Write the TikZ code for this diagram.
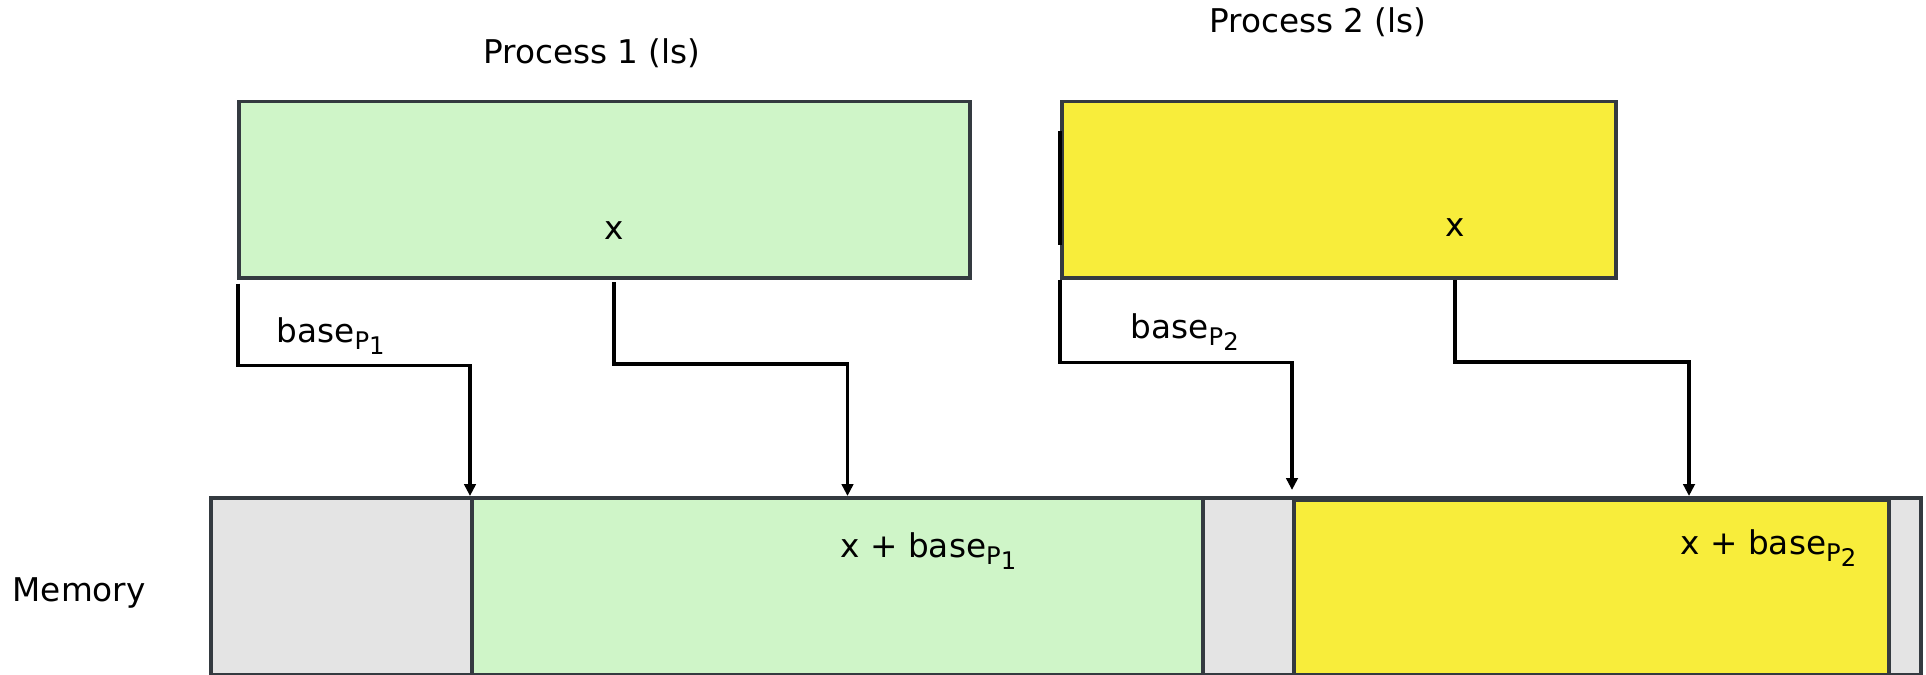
\documentclass[tikz,border=0pt]{standalone}
\usepackage{fontspec}
\setmainfont{DejaVu Sans}
\usetikzlibrary{positioning,arrows.meta,calc}
\definecolor{boxline}{HTML}{343A40}
\definecolor{pgreen}{HTML}{CFF5C8}
\definecolor{pyellow}{HTML}{F8ED3B}
\definecolor{memgray}{HTML}{E4E4E4}
\newcommand{\baseP}[1]{base\raisebox{-0.4ex}{\fontsize{6.9}{8}\selectfont P\raisebox{-0.4ex}{#1}}}

\begin{document}
\begin{tikzpicture}[font=\fontsize{9.3}{11}\selectfont, >={Triangle[length=1.2mm,width=1.15mm]},
  blk/.style={draw=boxline, line width=1.05pt, inner sep=0pt, anchor=north west,
              minimum height=17.65mm},
  seg/.style={blk, minimum height=17.7mm},
  lbl/.style={inner sep=0pt, anchor=base west},
  map/.style={->, line width=0.9pt}]
\useasboundingbox (0,0) rectangle (19.26,6.74);
% address spaces of the two processes
\node[inner sep=0pt] (t1) at (5.92,6.21) {Process 1 (ls)};
\node[inner sep=0pt] (t2) at (13.18,6.52) {Process 2 (ls)};
\node[blk, fill=pgreen, minimum width=73.1mm] (p1) at (2.37,5.745) {};
\node[blk, fill=pyellow, minimum width=55.4mm] (p2) at (10.60,5.745) {};
\draw[line width=1.3pt] (10.60,5.43) -- (10.60,4.29);
\node[inner sep=0pt] (x1) at (6.14,4.435) {x};
\node[inner sep=0pt] (x2) at (14.55,4.465) {x};
% physical memory
\node[lbl] (mlab) at (0.12,0.73) {Memory};
\node[seg, fill=memgray, minimum width=171mm] (mem) at (2.09,1.78) {};
\node[seg, fill=pgreen, minimum width=73.1mm] (m1) at (4.70,1.78) {};
\node[seg, fill=pyellow, minimum width=59.5mm, minimum height=17.5mm] (m2) at (12.92,1.76) {};
\node[lbl] (a1) at (8.40,1.165) {x + \baseP{1}};
\node[lbl] (a2) at (16.80,1.195) {x + \baseP{2}};
% translation arrows
\node[lbl] (b1) at (2.76,3.32) {\baseP{1}};
\node[lbl] (b2) at (11.30,3.36) {\baseP{2}};
\coordinate (x1src) at (6.14,3.92);
\coordinate (x2src) at (14.55,3.94);
\coordinate (x1dst) at (8.475,1.78);
\coordinate (x2dst) at (16.89,1.78);
\coordinate (b2dst) at (12.92,1.84);
\draw[map] ([xshift=0.01cm,yshift=-0.04cm]p1.south west) -- ++(0,-0.82) -| (m1.north west);
\draw[map] (x1src) -- ++(0,-0.82) -| (x1dst);
\draw[map] (p2.south west) -- ++(0,-0.83) -| (b2dst);
\draw[map] (x2src) -- ++(0,-0.82) -| (x2dst);
\end{tikzpicture}
\end{document}
